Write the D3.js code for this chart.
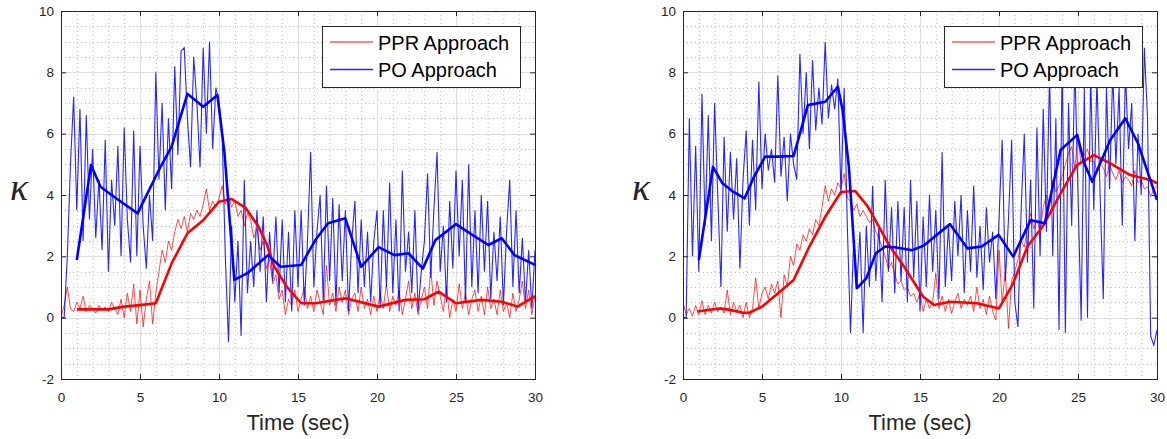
<!DOCTYPE html>
<html>
<head>
<meta charset="utf-8">
<script src="https://cdn.jsdelivr.net/npm/d3@7"></script>
<style>
  body { margin: 0; background: #fff; }
  svg { display: block; font-family: "Liberation Sans", Arial, sans-serif; }
</style>
</head>
<body>
<svg width="1167" height="439"></svg>
<script>
// raw signals sampled every 0.2 s, t = 0 .. 30 (one row = 2 s)
const sampleStep = 0.2;

const leftPPR = [
  0.0, 0.4, 1.0, 0.3, 0.2, 0.5, 0.3, 0.7, 0.2, 0.4,
  0.3, 0.15, 0.4, 0.25, 0.35, 0.2, 0.5, 0.3, 0.1, 0.6,
  0.0, 0.8, 0.2, 1.1, -0.2, 0.9, -0.3, 0.6, 1.2, -0.2,
  0.8, 1.5, 2.2, 1.8, 2.5, 2.2, 2.8, 3.2, 2.9, 3.3,
  2.8, 3.4, 3.2, 3.5, 3.3, 3.7, 4.2, 3.5, 3.8, 3.6,
  3.9, 4.3, 3.7, 4.0, 3.6, 3.8, 3.3, 3.5, 3.0, 3.4,
  3.2, 2.6, 2.9, 2.2, 2.5, 1.6, 1.9, 1.1, 1.4, 0.6,
  0.9, 0.1, 0.6, 0.4, 0.9, 0.2, 0.6, 1.0, 0.3, 0.7,
  0.2, 0.9, 0.5, 0.1, 1.7, 0.4, 0.8, 0.2, 1.0, 0.5,
  0.9, 0.1, 0.6, 0.8, 0.2, 1.0, 0.3, 0.6, 0.1, 0.7,
  0.2, 0.8, 0.3, 1.1, 0.2, 0.7, 0.4, 0.9, 0.1, 0.6,
  1.2, 0.3, 0.8, 0.1, 0.6, 1.0, 0.3, 1.6, 0.4, 1.2,
  0.7, 0.2, 1.0, 0.0, 0.6, 0.2, 1.1, 0.3, 0.8, 0.1,
  0.6, 0.9, 0.2, 0.7, 0.1, 1.0, 0.3, 0.6, 0.1, 0.9,
  0.2, 0.5, 0.0, 0.8, 0.2, 0.6, 1.2, 0.3, 0.9, 0.1,
  0.7
];

const leftPO = [
  0, 0, 2.0, 5.0, 7.2, 3.5, 6.8, 2.5, 6.6, 3.2,
  5.5, 2.6, 4.5, 2.2, 5.8, 1.5, 4.5, 3.0, 5.6, 2.0,
  6.2, 3.2, 1.8, 6.1, 2.0, 5.6, 3.0, 1.6, 4.0, 2.5,
  8.0, 4.5, 7.0, 3.5, 6.5, 4.2, 8.2, 5.3, 8.7, 8.8,
  6.5, 4.9, 8.5, 7.0, 4.9, 8.8, 6.0, 9.0, 5.5, 7.5,
  7.0, 6.0, 2.0, -0.8, 3.0, 0.5, 2.5, -0.6, 4.5, 0.8,
  2.5, 1.0, 3.5, 1.5, 3.3, 0.5, 2.8, 1.2, 3.3, 0.8,
  3.2, 0.5, 2.8, 0.2, 3.5, 1.0, 3.5, 0.4, 2.5, 5.4,
  1.0, 2.8, 4.0, 0.5, 4.3, 1.2, 3.9, 0.4, 3.7, 1.2,
  3.5, 0.2, 2.5, 3.8, 0.8, 3.2, 1.0, 2.8, 0.5, 2.5,
  3.5, 0.3, 3.5, 1.0, 4.4, 0.8, 3.2, 0.2, 4.8, 1.5,
  2.8, 0.8, 3.5, 0.2, 1.5, 2.5, 4.7, 1.3, 3.5, 5.4,
  1.5, 3.0, 0.5, 3.8, 1.6, 4.8, 2.0, 4.5, 0.5, 5.0,
  1.0, 3.5, 0.8, 4.0, 1.5, 3.8, 0.6, 2.8, 1.2, 3.3,
  0.4, 2.8, 4.5, 1.0, 3.5, 0.8, 2.6, 0.5, 2.2, 0.3,
  2.2
];

const rightPPR = [
  0.5, 0.1, 0.3, 0.05, 0.4, 0.1, 0.55, 0.1, 0.4, 0.15,
  0.5, 0.2, 0.35, 0.15, 0.9, 0.1, 0.5, 0.2, 0.4, 0.0,
  0.5, 0.0, 0.3, 1.3, 0.3, 0.8, 1.0, 0.6, 1.1, 0.8,
  1.2, 0.0, 1.4, 1.0, 2.0, 1.7, 2.4, 2.2, 2.7, 2.5,
  2.9, 2.7, 3.2, 3.0, 3.6, 4.3, 3.8, 4.2, 4.0, 4.4,
  4.2, 4.7, 3.9, 3.8, 3.5, 3.7, 3.3, 3.5, 3.3, 3.1,
  3.2, 2.8, 2.6, 2.3, 2.0, 1.6, 1.8, 1.4, 1.1, 1.2,
  0.9, 1.0, 0.7, 0.8, 0.5, 0.8, 0.2, 0.6, 0.3, 0.5,
  1.45, 0.3, 0.7, 0.2, 0.6, 0.14, 0.5, 0.8, 0.3, 0.6,
  0.4, 0.7, 0.2, 1.0, 0.3, 0.6, 0.1, 0.7, 0.2, -0.08,
  2.2, 0.5, 1.5, -0.35, 1.2, 1.5, 1.9, 2.5, 2.3, 2.9,
  3.4, 2.9, 3.2, 2.8, 3.6, 4.0, 3.7, 4.5, 4.1, 4.3,
  4.6, 5.0, 5.36, 5.58, 4.9, 5.9, 5.0, 5.3, 5.5, 5.1,
  5.1, 4.8, 5.0, 4.9, 4.6, 5.0, 4.7, 4.5, 4.8, 4.4,
  4.6, 4.5, 4.3, 4.8, 4.4, 4.5, 4.2, 4.27, 3.95, 4.2,
  4.3
];

const rightPO = [
  0, 0, 6.5, 2.0, 5.6, 1.5, 7.3, 3.0, 6.6, 2.5,
  7.0, 4.0, 1.0, 5.9, 2.8, 5.4, 3.2, 5.2, 1.6, 4.5,
  6.1, 3.0, 5.8, 3.5, 7.7, 4.2, 6.0, 4.8, 5.5, 4.4,
  7.9, 4.6, 5.9, 3.8, 6.0, 5.0, 4.5, 8.6, 6.0, 8.0,
  5.5, 8.4, 6.1, 7.5, 6.3, 9.0, 6.5, 7.6, 6.8, 7.8,
  4.0, 7.5, 3.0, -0.5, 2.5, 1.0, 2.8, -0.5, 3.0, 1.0,
  4.3, 1.2, 3.0, 0.5, 4.5, 1.5, 3.6, 0.8, 3.8, 1.2,
  3.6, 0.5, 4.5, 1.3, 3.8, 0.2, 3.3, 1.0, 4.0, 1.5,
  3.5, 0.6, 5.4, 1.0, 3.0, 1.2, 3.8, 2.0, 4.0, 0.8,
  3.5, 1.5, 4.3, 1.3, 3.0, 0.9, 3.6, 1.8, 2.8, 0.6,
  3.2, 5.8, 1.2, 3.2, 5.8, 0.5, -0.3, 3.5, 6.0, 1.8,
  4.5, 0.3, 6.2, 2.0, 6.8, 2.8, 8.0, 2.0, 6.5, -0.4,
  8.5, -0.5, 7.0, 3.0, 8.3, 4.0, -0.1, 7.5, 0.0, 8.0,
  3.5, 7.8, 4.0, 0.6, 7.5, 4.2, 8.0, 5.0, 7.5, 3.0,
  8.0, 5.5, 7.0, 2.5, 6.0, 4.0, 8.8, 6.5, -0.6, -0.9,
  -0.4
];

// smoothed curves: [time, value]
const leftPPRSmooth = [[1,0.27],[2,0.27],[3,0.27],[4,0.36],[5,0.41],[6,0.47],[7,1.77],[8,2.75],[9,3.18],[10,3.78],[10.8,3.87],[11.7,3.57],[12.5,2.97],[13,2.42],[13.5,1.66],[14.3,1.0],[15.2,0.47],[16.1,0.47],[18,0.63],[20.1,0.36],[21.8,0.58],[23,0.6],[23.9,0.85],[25,0.47],[26.6,0.58],[27.9,0.52],[28.9,0.36],[30,0.7]];
const leftPOSmooth = [[1,1.88],[1.9,4.98],[2.5,4.27],[3.2,4.0],[3.8,3.78],[4.85,3.4],[6.3,4.92],[7,5.58],[8,7.3],[9,6.88],[9.9,7.26],[10.35,5.36],[10.97,1.23],[11.8,1.45],[13.1,2.04],[13.9,1.66],[15.2,1.72],[16.1,2.53],[16.9,3.08],[18,3.24],[19,1.66],[20.1,2.3],[21.1,2.04],[22,2.1],[22.9,1.6],[23.7,2.53],[25,3.05],[26.2,2.64],[27.05,2.37],[27.9,2.59],[28.7,2.04],[30,1.72]];
const rightPPRSmooth = [[0.9,0.2],[2.3,0.3],[2.8,0.27],[3.8,0.16],[4.2,0.16],[5,0.36],[6,0.79],[7,1.23],[8,2.32],[9,3.29],[10,4.1],[10.9,4.13],[11.7,3.62],[12.4,2.97],[13.1,2.32],[14,1.66],[15.2,0.68],[15.9,0.41],[16.9,0.52],[18.6,0.47],[20,0.3],[20.9,1.12],[21.8,2.32],[22.8,3.0],[23.9,4.05],[24.95,4.98],[26,5.3],[27.05,5.03],[28.3,4.65],[29.6,4.49],[30,4.38]];
const rightPOSmooth = [[1,1.88],[1.9,4.92],[2.5,4.38],[3.2,4.1],[3.9,3.89],[4.5,4.6],[5.2,5.25],[6,5.25],[7,5.27],[7.4,6.0],[7.9,6.93],[9,7.04],[9.8,7.53],[10.1,6.77],[10.5,4.92],[11,0.96],[11.6,1.28],[12.2,2.1],[12.8,2.32],[13.5,2.29],[14.5,2.2],[15.2,2.34],[16.9,3.05],[18,2.26],[18.9,2.32],[19.98,2.7],[20.9,1.99],[22,3.18],[22.9,3.08],[23.9,5.47],[24.95,5.96],[25.4,5.03],[25.9,4.43],[27.05,5.8],[28,6.5],[28.8,5.68],[30,3.84]];

const xTicks = [0, 5, 10, 15, 20, 25, 30];
const yTicks = [-2, 0, 2, 4, 6, 8, 10];
const legendLabels = ["PPR Approach", "PO Approach"];

const panels = [
  {left: 61, ppr: leftPPR, po: leftPO, pprS: leftPPRSmooth, poS: leftPOSmooth},
  {left: 683, ppr: rightPPR, po: rightPO, pprS: rightPPRSmooth, poS: rightPOSmooth}
];

const plotW = 474, plotTop = 11, plotBottom = 379;
const svg = d3.select("svg");
const ink = "#262626";

panels.forEach((p, i) => {
  const x = d3.scaleLinear().domain([0, 30]).range([p.left, p.left + plotW]);
  const y = d3.scaleLinear().domain([-2, 10]).range([plotBottom, plotTop]);
  const g = svg.append("g");

  // minor grid
  g.append("g").selectAll("line")
    .data(d3.range(0, 31, 1).filter(v => v % 5 !== 0))
    .join("line")
    .attr("x1", d => x(d) + 0.5).attr("x2", d => x(d) + 0.5)
    .attr("y1", plotTop).attr("y2", plotBottom)
    .attr("stroke", "#c4c4c4").attr("stroke-dasharray", "1,3");
  g.append("g").selectAll("line")
    .data(d3.range(-2, 10.01, 0.5).filter(v => v % 2 !== 0))
    .join("line")
    .attr("y1", d => Math.round(y(d)) + 0.5).attr("y2", d => Math.round(y(d)) + 0.5)
    .attr("x1", p.left).attr("x2", p.left + plotW)
    .attr("stroke", "#c4c4c4").attr("stroke-dasharray", "1,3");

  // major grid
  g.append("g").selectAll("line")
    .data(xTicks)
    .join("line")
    .attr("x1", d => x(d) + 0.5).attr("x2", d => x(d) + 0.5)
    .attr("y1", plotTop).attr("y2", plotBottom)
    .attr("stroke", "#dedede");
  g.append("g").selectAll("line")
    .data(yTicks)
    .join("line")
    .attr("y1", d => Math.round(y(d)) + 0.5).attr("y2", d => Math.round(y(d)) + 0.5)
    .attr("x1", p.left).attr("x2", p.left + plotW)
    .attr("stroke", "#dedede");

  // clip
  const clipId = "clip" + i;
  svg.append("clipPath").attr("id", clipId)
    .append("rect").attr("x", p.left).attr("y", plotTop)
    .attr("width", plotW).attr("height", plotBottom - plotTop);

  const raw = d3.line()
    .x((d, k) => x(k * sampleStep))
    .y(d => y(d));
  const smooth = d3.line().x(d => x(d[0])).y(d => y(d[1]));

  const data = g.append("g").attr("clip-path", `url(#${clipId})`);
  data.append("path").attr("d", raw(p.ppr))
    .attr("fill", "none").attr("stroke", "#ff0000").attr("stroke-opacity", 0.7).attr("stroke-width", 1);
  data.append("path").attr("d", raw(p.po))
    .attr("fill", "none").attr("stroke", "#0000ff").attr("stroke-opacity", 0.85).attr("stroke-width", 1.1);
  data.append("path").attr("d", smooth(p.pprS))
    .attr("fill", "none").attr("stroke", "#ff0000").attr("stroke-width", 2.6).attr("stroke-linejoin", "round");
  data.append("path").attr("d", smooth(p.poS))
    .attr("fill", "none").attr("stroke", "#0000ff").attr("stroke-width", 2.6).attr("stroke-linejoin", "round");

  // axes with inward ticks
  const styleAxis = sel => {
    sel.select(".domain").remove();
    sel.selectAll(".tick line").attr("stroke", ink);
    sel.selectAll("text").attr("fill", ink).style("font-size", "13.5px")
      .style("font-family", "'Liberation Sans', Arial, sans-serif");
  };
  g.append("g").attr("transform", `translate(0,${plotBottom})`)
    .call(d3.axisBottom(x).tickValues(xTicks).tickFormat(d => String(d)).tickSizeInner(-5).tickSizeOuter(0).tickPadding(13))
    .call(styleAxis);
  g.append("g").attr("transform", `translate(0,${plotTop})`)
    .call(d3.axisTop(x).tickValues(xTicks).tickSizeInner(-5).tickSizeOuter(0).tickFormat(""))
    .call(styleAxis);
  g.append("g").attr("transform", `translate(${p.left},0)`)
    .call(d3.axisLeft(y).tickValues(yTicks).tickFormat(d => String(d)).tickSizeInner(-5).tickSizeOuter(0).tickPadding(7))
    .call(styleAxis);
  g.append("g").attr("transform", `translate(${p.left + plotW},0)`)
    .call(d3.axisRight(y).tickValues(yTicks).tickSizeInner(-5).tickSizeOuter(0).tickFormat(""))
    .call(styleAxis);

  g.append("rect")
    .attr("x", p.left + 0.5).attr("y", plotTop + 0.5)
    .attr("width", plotW).attr("height", plotBottom - plotTop)
    .attr("fill", "none").attr("stroke", ink);

  // axis labels
  g.append("text")
    .attr("x", p.left + plotW / 2).attr("y", 430)
    .attr("text-anchor", "middle")
    .attr("fill", ink).style("font-size", "22px")
    .text("Time (sec)");
  g.append("text")
    .attr("x", p.left - 42).attr("y", 200)
    .attr("text-anchor", "middle")
    .attr("fill", ink)
    .style("font-family", "'Liberation Serif', serif").style("font-style", "italic").style("font-size", "38px")
    .text("κ");

  // legend
  const lx = p.left + plotW - 15 - 198, ly = 26;
  const lg = g.append("g");
  lg.append("rect").attr("x", lx + 0.5).attr("y", ly + 0.5)
    .attr("width", 198).attr("height", 61)
    .attr("fill", "#fff").attr("stroke", ink);
  const legendColors = [["#ff0000", 0.65], ["#0000ff", 0.85]];
  legendLabels.forEach((lab, k) => {
    const cy = ly + 16 + k * 27.5;
    lg.append("line")
      .attr("x1", lx + 8).attr("x2", lx + 51)
      .attr("y1", cy).attr("y2", cy)
      .attr("stroke", legendColors[k][0]).attr("stroke-opacity", legendColors[k][1]).attr("stroke-width", 1.5);
    lg.append("text")
      .attr("x", lx + 56).attr("y", cy + 7.5)
      .attr("fill", "#000").style("font-size", "20px")
      .text(lab);
  });
});
</script>
</body>
</html>
